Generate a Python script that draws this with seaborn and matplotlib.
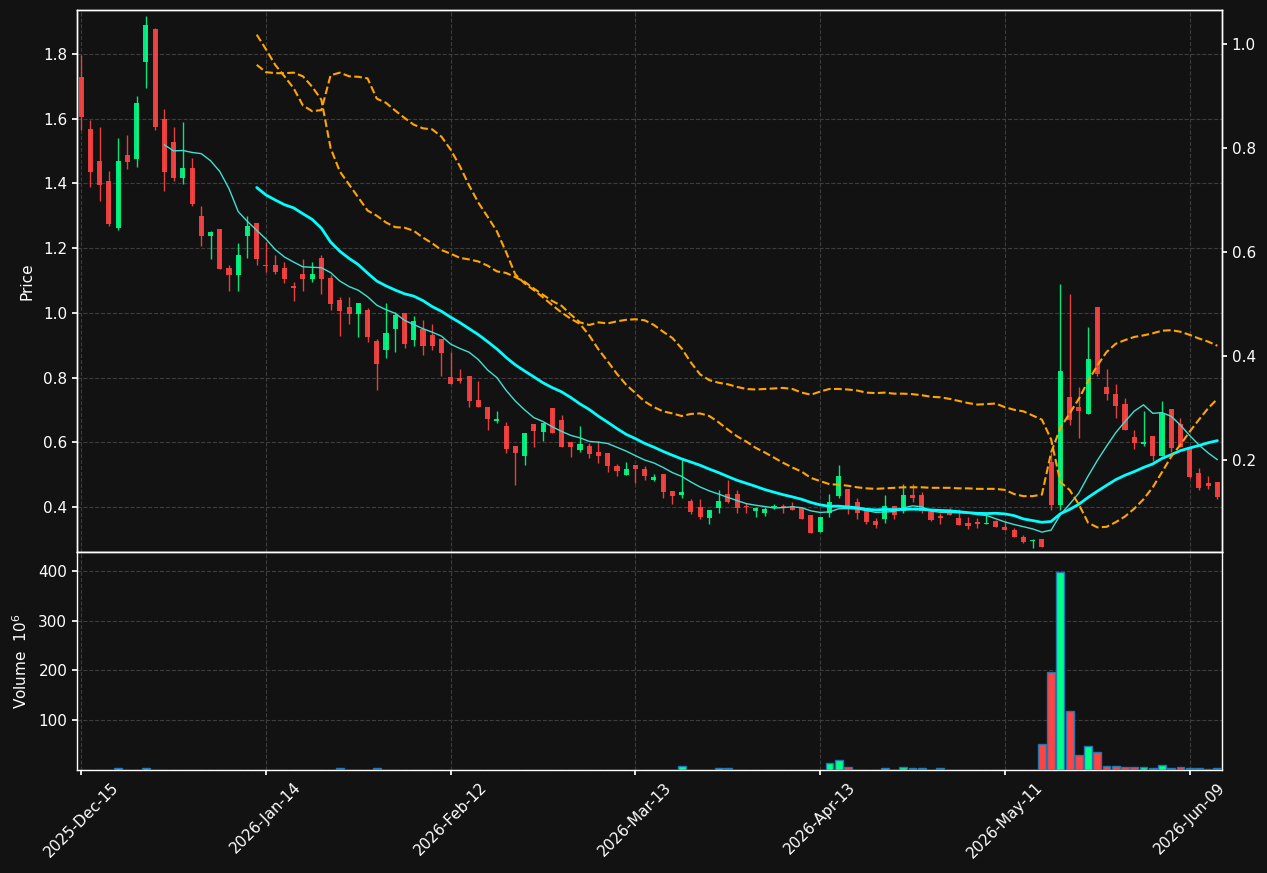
import numpy as np
import pandas as pd
import matplotlib
matplotlib.use("Agg")
import matplotlib.pyplot as plt
import seaborn as sns

# ---------------- data ----------------
holidays = ["2025-12-25", "2026-01-01", "2026-01-19", "2026-02-16", "2026-04-03", "2026-05-25"]
dates = pd.bdate_range("2025-12-15", "2026-06-12", freq="C", holidays=holidays)

opens = [1.729, 1.568, 1.469, 1.407, 1.262, 1.488, 1.475, 1.776, 1.877, 1.599,
         1.528, 1.417, 1.448, 1.299, 1.237, 1.259, 1.138, 1.118, 1.237, 1.278,
         1.149, 1.148, 1.138, 1.081, 1.121, 1.104, 1.169, 1.108, 1.040, 1.018,
         0.997, 1.009, 0.914, 0.886, 0.950, 0.999, 0.916, 0.951, 0.931, 0.918,
         0.802, 0.798, 0.805, 0.730, 0.709, 0.666, 0.650, 0.588, 0.557, 0.656,
         0.632, 0.705, 0.669, 0.601, 0.576, 0.588, 0.570, 0.567, 0.526, 0.499,
         0.529, 0.519, 0.485, 0.502, 0.449, 0.437, 0.418, 0.400, 0.367, 0.398,
         0.441, 0.440, 0.403, 0.388, 0.382, 0.399, 0.401, 0.403, 0.398, 0.375,
         0.323, 0.380, 0.434, 0.457, 0.415, 0.390, 0.356, 0.364, 0.403, 0.388,
         0.437, 0.437, 0.390, 0.370, 0.383, 0.365, 0.351, 0.352, 0.348, 0.356,
         0.337, 0.329, 0.306, 0.294, 0.300, 0.538, 0.406, 0.740, 0.709, 0.688,
         1.018, 0.771, 0.749, 0.718, 0.615, 0.594, 0.619, 0.558, 0.702, 0.658,
         0.586, 0.505, 0.475, 0.477]
highs = [1.798, 1.597, 1.576, 1.437, 1.540, 1.550, 1.669, 1.917, 1.880, 1.629,
         1.576, 1.589, 1.478, 1.329, 1.254, 1.259, 1.147, 1.215, 1.298, 1.278,
         1.218, 1.178, 1.158, 1.096, 1.168, 1.158, 1.178, 1.117, 1.048, 1.048,
         1.030, 1.016, 0.920, 1.030, 1.003, 0.999, 0.990, 0.977, 0.967, 0.918,
         0.878, 0.826, 0.805, 0.789, 0.709, 0.698, 0.662, 0.588, 0.628, 0.656,
         0.659, 0.705, 0.683, 0.601, 0.649, 0.598, 0.604, 0.567, 0.534, 0.539,
         0.529, 0.528, 0.501, 0.502, 0.449, 0.548, 0.426, 0.426, 0.391, 0.454,
         0.485, 0.454, 0.411, 0.401, 0.401, 0.409, 0.409, 0.416, 0.398, 0.375,
         0.368, 0.439, 0.529, 0.457, 0.429, 0.390, 0.365, 0.437, 0.403, 0.471,
         0.471, 0.447, 0.390, 0.383, 0.396, 0.393, 0.368, 0.365, 0.375, 0.359,
         0.354, 0.336, 0.313, 0.300, 0.300, 0.566, 1.088, 1.057, 0.770, 0.957,
         1.018, 0.828, 0.779, 0.736, 0.638, 0.696, 0.619, 0.728, 0.702, 0.674,
         0.586, 0.521, 0.497, 0.477]
lows = [1.566, 1.388, 1.347, 1.267, 1.257, 1.445, 1.452, 1.696, 1.566, 1.378,
        1.407, 1.397, 1.329, 1.207, 1.167, 1.135, 1.068, 1.068, 1.171, 1.147,
        1.126, 1.121, 1.091, 1.037, 1.069, 1.096, 1.057, 1.008, 0.928, 0.966,
        0.924, 0.910, 0.761, 0.862, 0.878, 0.891, 0.899, 0.869, 0.886, 0.805,
        0.780, 0.782, 0.709, 0.709, 0.637, 0.659, 0.568, 0.468, 0.531, 0.586,
        0.604, 0.630, 0.585, 0.555, 0.569, 0.551, 0.536, 0.509, 0.496, 0.499,
        0.475, 0.484, 0.481, 0.429, 0.408, 0.429, 0.377, 0.362, 0.349, 0.380,
        0.411, 0.380, 0.382, 0.370, 0.373, 0.394, 0.383, 0.392, 0.364, 0.320,
        0.323, 0.370, 0.427, 0.377, 0.363, 0.349, 0.334, 0.352, 0.362, 0.383,
        0.416, 0.383, 0.357, 0.349, 0.375, 0.344, 0.331, 0.334, 0.348, 0.337,
        0.329, 0.306, 0.290, 0.272, 0.277, 0.392, 0.390, 0.653, 0.612, 0.688,
        0.805, 0.730, 0.674, 0.639, 0.578, 0.589, 0.543, 0.558, 0.569, 0.586,
        0.491, 0.454, 0.457, 0.425]
closes = [1.606, 1.436, 1.396, 1.274, 1.469, 1.466, 1.649, 1.890, 1.574, 1.436,
          1.417, 1.448, 1.336, 1.237, 1.250, 1.135, 1.118, 1.179, 1.268, 1.167,
          1.145, 1.126, 1.104, 1.078, 1.104, 1.121, 1.104, 1.029, 1.006, 0.997,
          1.030, 0.926, 0.843, 0.938, 0.992, 0.905, 0.975, 0.899, 0.899, 0.876,
          0.781, 0.791, 0.727, 0.709, 0.672, 0.672, 0.580, 0.568, 0.628, 0.635,
          0.659, 0.630, 0.585, 0.586, 0.594, 0.563, 0.557, 0.526, 0.511, 0.517,
          0.518, 0.496, 0.494, 0.447, 0.435, 0.446, 0.385, 0.370, 0.391, 0.418,
          0.416, 0.398, 0.399, 0.398, 0.394, 0.401, 0.399, 0.392, 0.364, 0.320,
          0.368, 0.415, 0.496, 0.401, 0.382, 0.354, 0.344, 0.403, 0.375, 0.437,
          0.429, 0.387, 0.360, 0.367, 0.375, 0.344, 0.341, 0.349, 0.350, 0.337,
          0.329, 0.308, 0.293, 0.297, 0.277, 0.406, 0.820, 0.670, 0.696, 0.859,
          0.812, 0.750, 0.713, 0.639, 0.599, 0.600, 0.558, 0.691, 0.583, 0.586,
          0.493, 0.458, 0.465, 0.430]
# volume in millions
volumes = [0.5, 0.5, 0.5, 0.5, 3.0, 0.5, 0.5, 3.0, 0.5, 0.5,
           0.5, 0.5, 0.5, 0.5, 0.5, 0.5, 0.5, 0.5, 0.5, 0.5,
           0.5, 0.5, 0.5, 0.5, 0.5, 0.5, 0.5, 0.5, 3.0, 0.5,
           0.5, 0.5, 3.0, 0.5, 0.5, 0.5, 0.5, 0.5, 0.0, 0.5,
           0.5, 0.0, 0.5, 0.5, 0.5, 0.0, 0.5, 0.5, 0.5, 0.5,
           0.5, 0.5, 0.5, 0.5, 0.5, 0.0, 0.5, 0.0, 0.5, 0.5,
           0.5, 0.0, 0.0, 0.5, 0.5, 8.0, 0.5, 0.5, 0.5, 3.0,
           3.0, 0.5, 0.5, 0.5, 0.0, 0.5, 0.5, 0.0, 0.0, 0.5,
           0.5, 13.5, 19.6, 6.0, 0.5, 0.5, 0.5, 3.0, 0.5, 6.0,
           3.0, 3.0, 0.5, 3.0, 0.5, 0.5, 0.5, 0.5, 0.5, 0.5,
           0.5, 0.5, 0.5, 0.5, 52.0, 197.0, 397.0, 118.5, 29.6, 47.8,
           35.6, 7.4, 7.4, 5.4, 5.4, 5.4, 3.4, 9.4, 3.4, 5.4,
           3.4, 3.4, 1.2, 3.0]

band_start = 19
band_a = [1.018, 0.990, 0.960, 0.938, 0.915, 0.882, 0.871, 0.873, 0.940, 0.945,
          0.938, 0.937, 0.934, 0.895, 0.887, 0.872, 0.858, 0.845, 0.838, 0.836,
          0.822, 0.797, 0.765, 0.728, 0.695, 0.668, 0.640, 0.600, 0.557, 0.540,
          0.527, 0.513, 0.498, 0.484, 0.472, 0.462, 0.440, 0.413, 0.390, 0.366,
          0.345, 0.329, 0.313, 0.302, 0.294, 0.290, 0.285, 0.289, 0.290, 0.285,
          0.273, 0.259, 0.246, 0.236, 0.224, 0.215, 0.205, 0.195, 0.186, 0.178,
          0.166, 0.160, 0.154, 0.153, 0.151, 0.148, 0.146, 0.145, 0.146, 0.147,
          0.148, 0.148, 0.148, 0.147, 0.147, 0.147, 0.146, 0.146, 0.145, 0.145,
          0.145, 0.143, 0.135, 0.131, 0.131, 0.134, 0.215, 0.262, 0.290, 0.318,
          0.352, 0.382, 0.408, 0.424, 0.431, 0.437, 0.440, 0.444, 0.449, 0.450,
          0.447, 0.441, 0.434, 0.428, 0.420]
band_b = [0.960, 0.946, 0.944, 0.944, 0.945, 0.938, 0.918, 0.893, 0.800, 0.755,
          0.730, 0.705, 0.680, 0.670, 0.657, 0.648, 0.647, 0.641, 0.628, 0.617,
          0.604, 0.597, 0.589, 0.586, 0.582, 0.574, 0.563, 0.560, 0.552, 0.543,
          0.530, 0.518, 0.506, 0.497, 0.480, 0.465, 0.460, 0.465, 0.463, 0.467,
          0.470, 0.471, 0.469, 0.460, 0.447, 0.435, 0.415, 0.388, 0.365, 0.354,
          0.349, 0.346, 0.341, 0.337, 0.336, 0.337, 0.338, 0.339, 0.337, 0.330,
          0.326, 0.332, 0.337, 0.337, 0.336, 0.334, 0.330, 0.329, 0.330, 0.328,
          0.328, 0.327, 0.325, 0.322, 0.321, 0.318, 0.314, 0.310, 0.307, 0.308,
          0.309, 0.302, 0.297, 0.294, 0.286, 0.278, 0.240, 0.158, 0.143, 0.115,
          0.080, 0.071, 0.072, 0.081, 0.092, 0.107, 0.125, 0.148, 0.177, 0.207,
          0.230, 0.255, 0.278, 0.300, 0.318]

tick_every = 20

# ---------------- style ----------------
bg = "#121212"
up_col, down_col = "#00ff88", "#ff4444"
sns.set_theme(style="dark", rc={
    "figure.facecolor": bg, "axes.facecolor": bg, "savefig.facecolor": bg,
    "axes.edgecolor": "white", "axes.linewidth": 1.0,
    "text.color": "white", "axes.labelcolor": "white",
    "xtick.color": "white", "ytick.color": "white",
    "xtick.bottom": True, "ytick.left": True,
    "xtick.major.size": 3.5, "ytick.major.size": 3.5,
    "xtick.labelsize": 11, "ytick.labelsize": 11, "axes.labelsize": 11,
})
plt.rcParams["font.family"] = ["DejaVu Sans"]

df = pd.DataFrame({"date": dates, "open": opens, "high": highs, "low": lows,
                   "close": closes, "volume": volumes})
df["x"] = np.arange(len(df))
df["ma10"] = df["close"].rolling(10).mean()
df["ma20"] = df["close"].rolling(20).mean()
df["up"] = df["close"] >= df["open"]
df["col"] = np.where(df["up"], up_col, down_col)

bands = pd.DataFrame({"x": np.arange(band_start, band_start + len(band_a)),
                      "a": band_a, "b": band_b})

fig = plt.figure(figsize=(12.67, 8.73), dpi=100)
L, W = 0.0608, 0.9037
ax = fig.add_axes([L, 0.3677, W, 0.6208])
axv = fig.add_axes([L, 0.118, W, 0.2497], sharex=ax)

grid_kw = dict(linestyle="--", color="#3d3d3d", linewidth=0.8)
for a in (ax, axv):
    a.grid(True, **grid_kw)
    a.set_axisbelow(True)

# candles
body_low = np.minimum(df["open"], df["close"])
body_h = np.maximum((df["close"] - df["open"]).abs(), 0.004)
ax.vlines(df["x"], df["low"], df["high"], colors=df["col"], linewidth=1.0, alpha=0.9, zorder=2)
ax.bar(df["x"], body_h, bottom=body_low, width=0.55, color=df["col"], alpha=0.9,
       linewidth=0, zorder=3)

# moving averages
sns.lineplot(data=df.dropna(subset=["ma10"]), x="x", y="ma10", ax=ax,
             color="#40e0d0", linewidth=1.0, zorder=4)
sns.lineplot(data=df.dropna(subset=["ma20"]), x="x", y="ma20", ax=ax,
             color="#00ffff", linewidth=2.0, zorder=4)

ax.set_ylim(0.261, 1.936)
ax.set_yticks([0.4, 0.6, 0.8, 1.0, 1.2, 1.4, 1.6, 1.8])
ax.set_ylabel("Price", labelpad=6)
ax.set_xlabel("")
ax.tick_params(axis="x", length=0, labelbottom=False)

# secondary axis lines
ax2 = ax.twinx()
sns.lineplot(data=bands, x="x", y="a", ax=ax2, color="orange", linewidth=1.5, linestyle="--")
sns.lineplot(data=bands, x="x", y="b", ax=ax2, color="orange", linewidth=1.5, linestyle="--")
ax2.grid(False)
ax2.set_ylabel("")
ax2.set_xlabel("")
ax2.set_yticks([0.2, 0.4, 0.6, 0.8, 1.0])
ax2.tick_params(axis="y", right=True, length=3.5, colors="white", labelsize=11)

# volume
axv.bar(df["x"], df["volume"], width=0.85, color=df["col"], edgecolor="#1f77b4",
        linewidth=1.0, zorder=3)
axv.set_ylim(0, 437.5)
axv.set_yticks([100, 200, 300, 400])
axv.set_ylabel("Volume  $10^{6}$", labelpad=6)

ticks = list(range(0, len(df), tick_every))
axv.set_xticks(ticks)
axv.set_xticklabels([df["date"].iloc[i].strftime("%Y-%b-%d") for i in ticks], rotation=45)
axv.set_xlabel("")
ax.set_xlim(-0.45, 123.5)

for a in (ax, ax2, axv):
    for s in a.spines.values():
        s.set_color("white")
        s.set_visible(True)

fig.savefig("out.png", dpi=100, facecolor=bg)
